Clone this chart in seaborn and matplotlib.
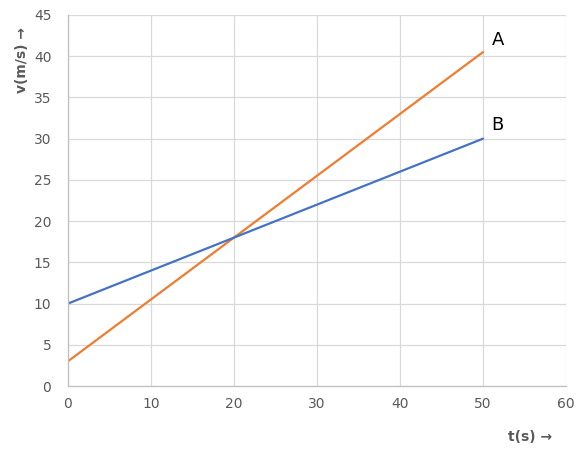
import numpy as np
import seaborn as sns
import matplotlib.pyplot as plt
import pandas as pd

t = [0, 10, 20, 30, 40, 50]
v_a = [3, 10.5, 18, 25.5, 33, 40.5]
v_b = [10, 14, 18, 22, 26, 30]

df = pd.DataFrame({
    "t": t + t,
    "v": v_a + v_b,
    "line": ["A"] * len(t) + ["B"] * len(t),
})

sns.set_theme(style="whitegrid")
plt.rcParams['font.family'] = ['DejaVu Sans']

fig = plt.figure(figsize=(5.88, 4.57), dpi=100)
ax = fig.add_axes([68/588, 71/457, 498/588, 371/457])

sns.lineplot(data=df, x="t", y="v", hue="line", palette={"A": "#ed7d31", "B": "#4472c4"},
             linewidth=1.6, legend=False, ax=ax)

ax.set_xlim(0, 60)
ax.set_ylim(0, 45)
ax.set_xticks(range(0, 61, 10))
ax.set_yticks(range(0, 46, 5))
ax.grid(True, color="#d9d9d9", linewidth=0.9)
for s in ["top", "right"]:
    ax.spines[s].set_visible(False)
for s in ["left", "bottom"]:
    ax.spines[s].set_color("#bfbfbf")
    ax.spines[s].set_linewidth(0.9)
ax.tick_params(axis="both", length=0, labelsize=10, colors="#595959", pad=8)
ax.tick_params(axis="y", pad=12)

ax.set_xlabel("")
ax.set_ylabel("")
fig.text(530/588, 1 - 437/457, "t(s) →", ha="center", va="center", fontsize=10,
         fontweight="bold", color="#595959")
fig.text(22/588, 1 - 60/457, "v(m/s) →", ha="center", va="center", fontsize=10,
         fontweight="bold", color="#595959", rotation=90)

ax.text(51.8, 42, "A", ha="center", va="center", fontsize=13, color="black")
ax.text(51.7, 31.7, "B", ha="center", va="center", fontsize=13, color="black")

fig.savefig("out.png", dpi=100)
